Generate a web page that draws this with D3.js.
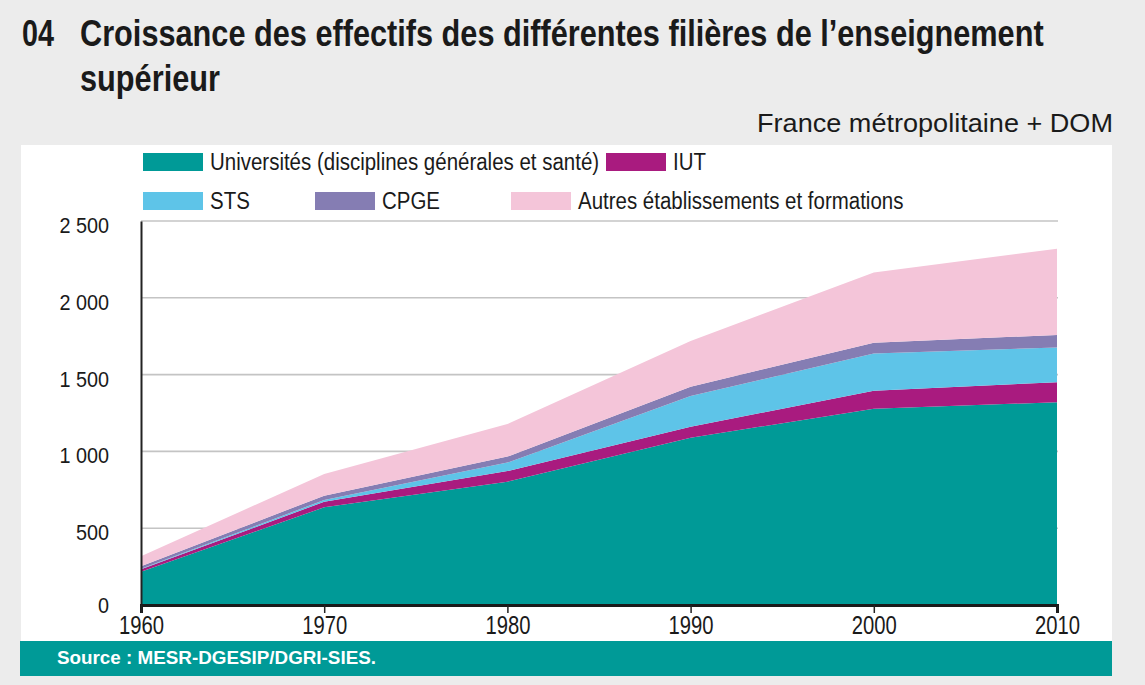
<!DOCTYPE html>
<html>
<head>
<meta charset="utf-8">
<script src="https://d3js.org/d3.v7.min.js"></script>
<style>
body {
	margin: 0;
	background: #ececec;
}
svg text {
	font-family: "Liberation Sans", Arial, Helvetica, sans-serif;
}
</style>
</head>
<body>
<svg id="chart" width="1145" height="685"></svg>
<script>

// effectifs en milliers
var years   = [1960, 1970, 1980, 1990, 2000, 2010]
var univ    = [217, 636, 803, 1089, 1278, 1320]
var iut     = [15, 36, 69, 72, 117, 131]
var sts     = [4, 11, 55, 199, 243, 226]
var cpge    = [17, 29, 39, 61, 70, 81]
var autres  = [65, 141, 212, 298, 456, 562]
var yTicks  = [0, 500, 1000, 1500, 2000, 2500]

var keys   = ["univ", "iut", "sts", "cpge", "autres"]
var labels = ["Universités (disciplines générales et santé)", "IUT", "STS", "CPGE", "Autres établissements et formations"]
var colors = ["#009a97", "#a91b7f", "#5ec4e8", "#857db3", "#f4c5d9"]

var table = years.map((y, i) => ({
	year: y, univ: univ[i], iut: iut[i], sts: sts[i], cpge: cpge[i], autres: autres[i]
}))

// pas de police condensée installée : on resserre le texte
function fit(sel, w) {
	sel.attr("textLength", w).attr("lengthAdjust", "spacingAndGlyphs")
}
function squeeze(sel, f) {
	sel.each(function() {
		d3.select(this)
			.attr("textLength", this.getComputedTextLength() * f)
			.attr("lengthAdjust", "spacingAndGlyphs")
	})
}
// version par transformation, pour les lignes longues du titre
function narrowLine(parent, tx, ty, str, w) {
	var g = parent.append("g")
	var t = g.append("text").text(str)
	var sx = w / t.node().getComputedTextLength()
	g.attr("transform", `translate(${tx},${ty}) scale(${sx},1)`)
}

var svg = d3.select("#chart")

var x = d3.scaleLinear()
	.domain([1960, 2010])
	.range([141, 1057])

var y = d3.scaleLinear()
	.domain([0, 2500])
	.range([605, 221])

var z = d3.scaleOrdinal().domain(keys).range(colors)

var fr = d3.formatLocale({decimal: ",", thousands: " ", grouping: [3], currency: ["", " €"]})

// titre
var title = svg.append("g")
	.attr("font-weight", "bold")
	.attr("font-size", 37)
	.attr("fill", "#1a1a1a")
narrowLine(title, 22, 46, "04", 32)
narrowLine(title, 80, 46, "Croissance des effectifs des différentes filières de l’enseignement", 964)
narrowLine(title, 80, 91, "supérieur", 140)

svg.append("text")
	.attr("x", 1113)
	.attr("y", 132)
	.attr("text-anchor", "end")
	.attr("font-size", 25)
	.attr("fill", "#1a1a1a")
	.text("France métropolitaine + DOM")
	.call(fit, 356)

// panneau blanc + bandeau source
svg.append("rect")
	.attr("x", 21).attr("y", 145)
	.attr("width", 1091).attr("height", 496)
	.attr("fill", "#fff")

svg.append("rect")
	.attr("x", 20).attr("y", 641)
	.attr("width", 1092).attr("height", 35)
	.attr("fill", "#009a97")

svg.append("text")
	.attr("x", 57).attr("y", 664)
	.attr("font-size", 18)
	.attr("font-weight", "bold")
	.attr("fill", "#fff")
	.text("Source : MESR-DGESIP/DGRI-SIES.")
	.call(fit, 319)

// grille
svg.append("g")
	.selectAll("line")
	.data(yTicks.slice(1))
	.enter().append("line")
	.attr("x1", x(1960)).attr("x2", x(2010) + 1)
	.attr("y1", d => y(d)).attr("y2", d => y(d))
	.attr("stroke", "#c4c4c4")
	.attr("stroke-width", 1.6)

// aires empilées
var series = d3.stack().keys(keys)(table)

var area = d3.area()
	.x(d => x(d.data.year))
	.y0(d => y(d[0]))
	.y1(d => y(d[1]))

svg.append("g")
	.selectAll("path")
	.data(series)
	.enter().append("path")
	.attr("fill", d => z(d.key))
	.attr("d", area)

// axes
var yAxis = svg.append("g")
	.attr("transform", `translate(${x(1960)},0)`)
	.call(d3.axisLeft(y).tickValues(yTicks).tickSize(0).tickPadding(32).tickFormat(fr.format(",")))

yAxis.select(".domain").attr("stroke", "#222").attr("stroke-width", 2)
yAxis.selectAll("text")
	.attr("font-size", 22)
	.attr("fill", "#1a1a1a")
	.attr("dy", d => d == 0 ? "0.34em" : "0.52em")
	.call(squeeze, 0.9)

var xAxis = svg.append("g")
	.attr("transform", `translate(0,${y(0)})`)
	.call(d3.axisBottom(x).tickValues(years).tickSize(8).tickPadding(3).tickFormat(d3.format("d")))

xAxis.select(".domain").attr("stroke", "#1a1a1a").attr("stroke-width", 3)
xAxis.selectAll(".tick line").attr("stroke", "#222").attr("stroke-width", 1.5)
xAxis.selectAll("text")
	.attr("font-size", 25)
	.attr("fill", "#1a1a1a")
	.call(squeeze, 0.81)

// légende
var legendPos = [[143, 153], [606, 153], [143, 192], [315, 192], [511, 192]]

var legend = svg.append("g")
	.selectAll("g")
	.data(keys)
	.enter().append("g")
	.attr("transform", (d, i) => `translate(${legendPos[i][0]},${legendPos[i][1]})`)

legend.append("rect")
	.attr("width", 60)
	.attr("height", 18)
	.attr("fill", z)

legend.append("text")
	.attr("x", 67)
	.attr("y", 17)
	.attr("font-size", 23)
	.attr("fill", "#1a1a1a")
	.text((d, i) => labels[i])
	.call(squeeze, 0.89)

</script>
</body>
</html>
